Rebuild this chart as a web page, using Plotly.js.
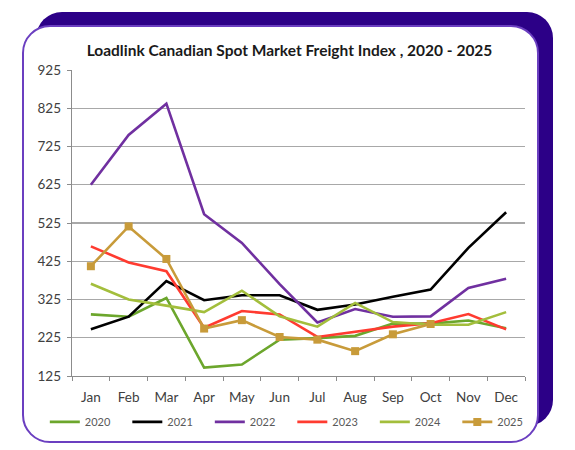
<!DOCTYPE html>
<html>
<head>
<meta charset="utf-8">
<script src="https://cdn.plot.ly/plotly-3.0.1.min.js"></script>
<style>
  html, body { margin: 0; padding: 0; background: #ffffff; }
  #wrap { position: relative; width: 575px; height: 450px; overflow: hidden; }
  #back { position: absolute; left: 36px; top: 12px; width: 517px; height: 414px; background: #2C0087; border-radius: 26px; }
  #card { position: absolute; left: 22px; top: 25px; width: 517px; height: 418px; box-sizing: border-box; background: #ffffff; border: 2px solid #6B3FC0; border-radius: 28px; }
  #chart { position: absolute; left: 0; top: 0; width: 575px; height: 450px; }
</style>
</head>
<body>
<div id="wrap">
  <div id="back"></div>
  <div id="card"></div>
  <div id="chart"></div>
</div>
<script>
const months = ["Jan","Feb","Mar","Apr","May","Jun","Jul","Aug","Sep","Oct","Nov","Dec"];
const seriesNames = ["2020","2021","2022","2023","2024","2025"];
const y2020 = [286, 280, 329, 147, 155, 220, 224, 230, 262, 262, 270, 250];
const y2021 = [247, 280, 373, 323, 336, 336, 298, 312, 332, 351, 460, 553];
const y2022 = [625, 755, 837, 548, 473, 365, 265, 300, 280, 281, 355, 379];
const y2023 = [464, 422, 399, 251, 295, 286, 227, 240, 254, 263, 287, 247];
const y2024 = [366, 325, 309, 292, 348, 281, 254, 316, 266, 259, 259, 292];
const y2025 = [412, 516, 431, 249, 271, 227, 220, 190, 234, 261, null, null];
const yTicks = [125, 225, 325, 425, 525, 625, 725, 825, 925];

const colors = ["#6CA62C", "#000000", "#7030A0", "#FF3B30", "#A3BE3C", "#C89B3A"];
const values = [y2020, y2021, y2022, y2023, y2024, y2025];

const traces = values.map((v, i) => ({
  x: months,
  y: v,
  name: seriesNames[i],
  type: "scatter",
  mode: i === 5 ? "lines+markers" : "lines",
  line: { color: colors[i], width: 2.6 },
  marker: { symbol: "square", size: 8, color: colors[i] },
  connectgaps: false
}));

const layout = {
  width: 575,
  height: 450,
  margin: { l: 72, r: 50, t: 70, b: 74 },
  paper_bgcolor: "rgba(0,0,0,0)",
  plot_bgcolor: "rgba(0,0,0,0)",
  font: { family: "Lato, 'Open Sans', sans-serif", color: "#404040" },
  title: {
    text: "Loadlink Canadian Spot Market Freight Index , 2020 - 2025",
    font: { family: "Lato, 'Open Sans', sans-serif", size: 15.5, color: "#1a1a1a", weight: "bold" },
    xref: "container", x: 0.5035, xanchor: "center",
    yref: "container", y: 1 - 51 / 450, yanchor: "middle"
  },
  xaxis: {
    type: "category",
    categoryarray: months,
    range: [-0.5, 11.5],
    showgrid: false,
    showline: true,
    linecolor: "#8C8C8C",
    linewidth: 1.3,
    ticks: "outside",
    tickson: "boundaries",
    ticklen: 4,
    tickcolor: "#8C8C8C",
    ticklabelstandoff: 8,
    tickfont: { size: 13.5, color: "#404040" },
    fixedrange: true
  },
  yaxis: {
    range: [125, 925],
    tickvals: yTicks,
    ticktext: yTicks.map(String),
    showgrid: true,
    gridcolor: "#A8A8A8",
    gridwidth: 1.2,
    zeroline: false,
    showline: true,
    linecolor: "#8C8C8C",
    linewidth: 1.3,
    ticks: "outside",
    ticklen: 4,
    tickcolor: "#8C8C8C",
    ticklabelstandoff: 3,
    tickfont: { size: 13.5, color: "#404040" },
    fixedrange: true
  },
  showlegend: true,
  legend: {
    orientation: "h",
    x: -0.06, xanchor: "left",
    y: -0.15, yanchor: "middle",
    entrywidth: 37.5, entrywidthmode: "pixels",
    itemwidth: 30,
    font: { size: 11, color: "#595959" },
    bgcolor: "rgba(0,0,0,0)",
    traceorder: "normal"
  }
};

Plotly.newPlot("chart", traces, layout, { displayModeBar: false, staticPlot: true });
</script>
</body>
</html>
